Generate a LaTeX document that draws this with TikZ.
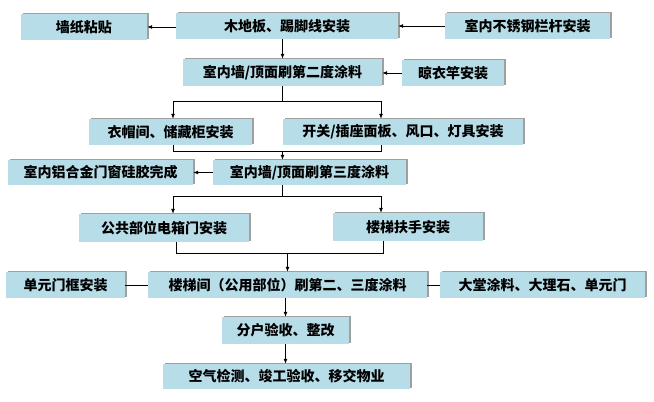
\documentclass[tikz,border=0pt]{standalone}
\usepackage{fontspec}
\newfontfamily\cjk{Noto Sans CJK SC}
\usepackage{tikz}
\usetikzlibrary{arrows.meta, calc, shadows}
\usepackage{xcolor}
\definecolor{boxblue}{RGB}{183, 221, 232}
\definecolor{shadowgray}{RGB}{160, 160, 160}

\begin{document}
\begin{tikzpicture}[
	x=1pt, y=-1pt,
	stepbox/.style={fill=boxblue, inner sep=0pt, minimum height=26pt,
		font={\cjk\bfseries\fontsize{14}{16}\selectfont},
		general shadow={fill=shadowgray, shadow xshift=1.5pt, shadow yshift=1.5pt}},
	arr/.style={-{Latex[length=5pt, width=4pt]}, line width=0.8pt},
	link/.style={line width=0.8pt}
	]
	\useasboundingbox (0,0) rectangle (654,402);
	\node[stepbox, minimum width=126pt] (wallpaper) at (84,27) {墙纸粘贴};
	\node[stepbox, minimum width=222pt] (floor) at (287,26) {木地板、踢脚线安装};
	\node[stepbox, minimum width=165pt] (railing) at (527.5,26) {室内不锈钢栏杆安装};
	\node[stepbox, minimum width=199pt, minimum height=27pt] (paint2) at (282.5,72.5) {室内墙/顶面刷第二度涂料};
	\node[stepbox, minimum width=102pt] (hanger) at (453,73) {晾衣竿安装};
	\node[stepbox, minimum width=163pt] (closet) at (170.5,132) {衣帽间、储藏柜安装};
	\node[stepbox, minimum width=240pt] (switch) at (403,132) {开关/插座面板、风口、灯具安装};
	\node[stepbox, minimum width=185pt, minimum height=25pt] (sealant) at (100.5,172.5) {室内铝合金门窗硅胶完成};
	\node[stepbox, minimum width=193pt, minimum height=25pt] (paint3) at (309.5,172.5) {室内墙/顶面刷第三度涂料};
	\node[stepbox, minimum width=170pt, minimum height=28pt] (meterbox) at (164,228) {公共部位电箱门安装};
	\node[stepbox, minimum width=150pt, minimum height=28pt] (handrail) at (408,227) {楼梯扶手安装};
	\node[stepbox, minimum width=119pt] (doorframe) at (65.5,285) {单元门框安装};
	\node[stepbox, minimum width=279pt] (stairpaint) at (287.5,285) {楼梯间（公用部位）刷第二、三度涂料};
	\node[stepbox, minimum width=205pt] (lobby) at (542.5,285) {大堂涂料、大理石、单元门};
	\node[stepbox, minimum width=127pt, minimum height=27pt] (inspect) at (285.5,330.5) {分户验收、整改};
	\node[stepbox, minimum width=247pt, minimum height=25pt] (handover) at (286.5,376.5) {空气检测、竣工验收、移交物业};
	% branch and join points
	\coordinate (split1l) at (173,101);
	\coordinate (split1r) at (381,101);
	\coordinate (merge1l) at (173,151);
	\coordinate (merge1r) at (381,151);
	\coordinate (split2l) at (173,196);
	\coordinate (split2r) at (381,196);
	\coordinate (merge2l) at (176,253);
	\coordinate (merge2r) at (383,253);
	\draw[arr] (floor.west |- wallpaper.east) -- (wallpaper.east);
	\draw[arr] (railing.west) -- (floor.east |- railing.west);
	\draw[arr] (hanger.west) -- (paint2.east |- hanger.west);
	\draw[arr] (floor.south -| paint2.north) -- (paint2.north);
	\draw[link] (paint2.south) -- (paint2.south |- split1l);
	\draw[link] (split1l) -- (split1r);
	\draw[arr] (split1l) -- (closet.north -| split1l);
	\draw[arr] (split1r) -- (switch.north -| split1r);
	\draw[link] (closet.south -| merge1l) -- (merge1l) -- (merge1r) -- (switch.south -| merge1r);
	\draw[arr] (paint2.south |- merge1l) -- (paint3.north -| paint2.south);
	\draw[arr] (paint3.west) -- (sealant.east);
	\draw[link] (paint3.south -| paint2.south) -- (paint2.south |- split2l);
	\draw[link] (split2l) -- (split2r);
	\draw[arr] (split2l) -- (meterbox.north -| split2l);
	\draw[arr] (split2r) -- (handrail.north -| split2r);
	\draw[link] (meterbox.south -| merge2l) -- (merge2l) -- (merge2r) -- (handrail.south -| merge2r);
	\draw[arr] (stairpaint.north |- merge2l) -- (stairpaint.north);
	\draw[link] (doorframe.east) -- (stairpaint.west);
	\draw[link] (stairpaint.east) -- (lobby.west);
	\draw[arr] (stairpaint.south -| inspect.north) -- (inspect.north);
	\draw[arr] (inspect.south) -- (handover.north -| inspect.south);
\end{tikzpicture}
\end{document}
